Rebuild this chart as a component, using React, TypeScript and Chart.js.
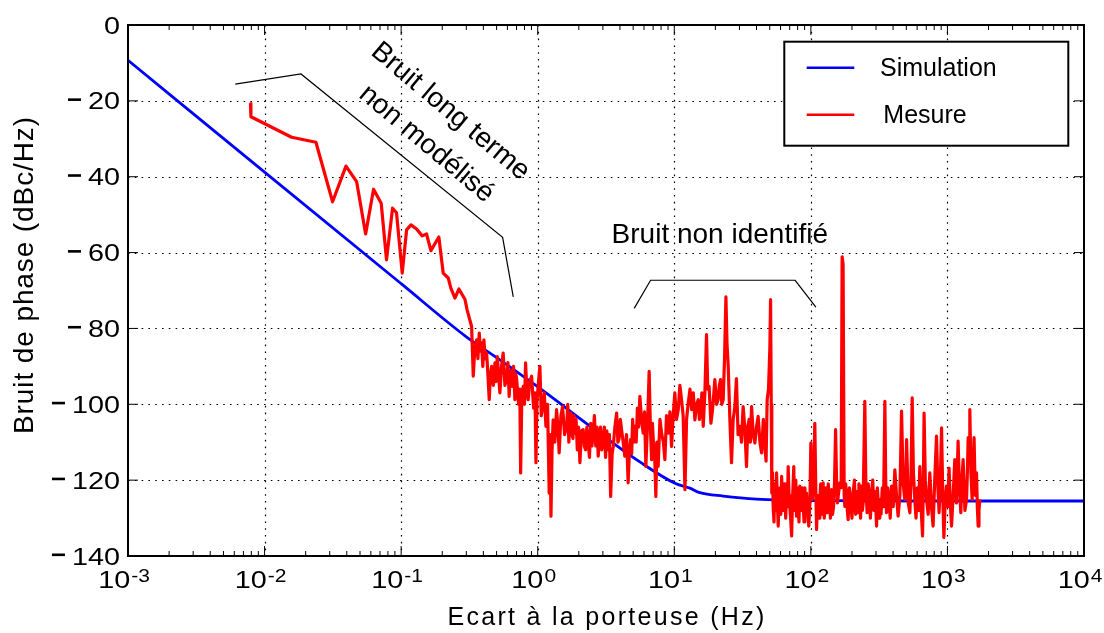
import React, { useEffect, useRef } from "react";
import { Chart, registerables } from "chart.js";

Chart.register(...registerables);

// ---- Data (frequencies stored as log10(Hz)) ----
const SIM_LOG_F = [-3, -2, -1, -0.523, -0.277, 0.004, 0.452, 0.748, 1.004, 1.114, 1.187, 1.358, 1.602, 2.09, 3, 4];
const SIM_DB = [-9.3, -38.8, -68.2, -82.2, -88.3, -95.5, -107.6, -115.2, -120.8, -122.1, -123.3, -124.2, -125.0, -125.4, -125.5, -125.5];

// Measured: low-frequency part
const MES_LOG_F_LOW = [
  -2.103, -2.1, -1.802, -1.624, -1.502, -1.404, -1.326, -1.26, -1.202, -1.146,
  -1.107, -1.063, -1.034, -0.992, -0.96, -0.928, -0.887, -0.846, -0.814, -0.782,
  -0.724, -0.692, -0.655, -0.636, -0.606, -0.577, -0.533, -0.517,
];
const MES_DB_LOW = [
  -20.7, -24.2, -29.6, -30.9, -46.6, -37.2, -41.3, -55.1, -43.3, -47.0,
  -61.9, -48.3, -49.5, -65.4, -54.0, -52.7, -53.8, -55.6, -55.1, -59.5,
  -55.9, -65.4, -66.7, -69.4, -72.0, -69.6, -72.3, -75.1,
];
// Measured: 0.3 Hz – 50 Hz
const MES_LOG_F_MID = [
  -0.484, -0.478, -0.472, -0.46, -0.447, -0.438, -0.428, -0.42, -0.411, -0.402,
  -0.394, -0.384, -0.374, -0.365, -0.355, -0.346, -0.337, -0.325, -0.313, -0.305,
  -0.296, -0.287, -0.277, -0.265, -0.253, -0.24, -0.228, -0.218, -0.209, -0.198,
  -0.187, -0.177, -0.167, -0.16, -0.154, -0.14, -0.131, -0.125, -0.116, -0.106,
  -0.097, -0.089, -0.08, -0.07, -0.058, -0.045, -0.03, -0.02, -0.013, -0.005,
  0.006, 0.016, 0.026, 0.036, 0.048, 0.06, 0.072, 0.084, 0.09, 0.097,
  0.105, 0.113, 0.125, 0.138, 0.148, 0.157, 0.17, 0.182, 0.197, 0.212,
  0.22, 0.228, 0.236, 0.243, 0.25, 0.258, 0.265, 0.272, 0.281, 0.29,
  0.299, 0.309, 0.32, 0.333, 0.341, 0.35, 0.36, 0.37, 0.379, 0.388,
  0.397, 0.406, 0.415, 0.425, 0.434, 0.443, 0.451, 0.46, 0.469, 0.479,
  0.488, 0.497, 0.506, 0.516, 0.525, 0.534, 0.545, 0.553, 0.565, 0.578,
  0.587, 0.596, 0.605, 0.614, 0.626, 0.638, 0.65, 0.662, 0.672, 0.68,
  0.688, 0.695, 0.703, 0.712, 0.721, 0.73, 0.739, 0.748, 0.76, 0.772,
  0.782, 0.792, 0.805, 0.816, 0.825, 0.834, 0.84, 0.846, 0.856, 0.865,
  0.873, 0.882, 0.895, 0.907, 0.92, 0.931, 0.943, 0.955, 0.968, 0.98,
  0.992, 1.004, 1.016, 1.029, 1.041, 1.053, 1.065, 1.078, 1.09, 1.102,
  1.115, 1.127, 1.139, 1.151, 1.163, 1.175, 1.184, 1.193, 1.202, 1.212,
  1.224, 1.236, 1.245, 1.255, 1.268, 1.28, 1.29, 1.297, 1.31, 1.321,
  1.33, 1.339, 1.348, 1.358, 1.368, 1.378, 1.386, 1.395, 1.407, 1.419,
  1.431, 1.444, 1.455, 1.467, 1.48, 1.492, 1.504, 1.516, 1.529, 1.538,
  1.548, 1.557, 1.566, 1.578, 1.59, 1.602, 1.614, 1.627, 1.639, 1.652,
  1.663, 1.672, 1.68, 1.69, 1.7, 1.705,
];
const MES_DB_MID = [
  -79.5, -86, -92.6, -85, -83.0, -88, -81.2, -86, -83.8, -90,
  -83.0, -88, -86.5, -92, -98.8, -92, -90.0, -95, -89.1, -94,
  -87.4, -92, -97.0, -90, -86.5, -95, -93.5, -89, -97.9, -91,
  -95.3, -90, -98.8, -92, -93.5, -100, -96, -118.1, -97, -95.3,
  -100, -89.1, -96, -98.8, -94, -92.6, -101, -97, -115.4, -99,
  -94, -90.0, -103, -100.6, -97, -105.8, -100, -123.4, -108, -129.5,
  -112, -104.1, -110, -101.4, -106, -112.8, -103, -100.6, -108, -105.8,
  -100, -110, -104, -102.3, -108, -109, -103, -107.6, -104, -112,
  -106, -115.4, -107, -106.7, -111, -112, -106, -110.2, -114, -105,
  -111, -107.6, -103, -111, -106, -113.7, -108, -106, -112, -109.3,
  -106, -114, -107, -112.0, -108, -124.3, -113, -111.1, -106, -102.3,
  -110, -109, -104, -106.7, -110, -113.7, -108, -120.7, -112, -109.3,
  -113, -104, -110, -105.8, -110, -101, -106, -97.9, -104, -107.6,
  -102, -116.4, -104, -91.3, -106, -114.6, -105, -109.3, -113, -124.3,
  -110, -116.4, -104, -107.6, -110, -114.6, -103, -107.6, -102, -111.1,
  -103, -97.0, -104, -101.4, -95, -98.8, -103, -122.5, -104, -99.7,
  -96, -101.4, -97, -104.1, -100, -98.8, -104, -102, -97, -105.8,
  -97, -81.6, -96, -95.3, -105, -101.4, -97, -93.5, -100, -98.8,
  -95, -93.5, -100, -98.8, -88, -71.7, -84, -90.0, -104, -115.4,
  -104, -100.6, -93.2, -108, -105.8, -110, -100.6, -106, -116.4, -106,
  -104, -110, -100.6, -108, -110.2, -106, -103.2, -110, -112.8, -104,
  -111.1, -115, -98.8, -96, -85, -72.4,
];
// Measured: 50 Hz – 1.7 kHz
const MES_LOG_F_HIGH = [
  1.71, 1.714, 1.719, 1.724, 1.73, 1.736, 1.742, 1.749, 1.755, 1.761,
  1.767, 1.773, 1.78, 1.786, 1.792, 1.798, 1.804, 1.81, 1.816, 1.822,
  1.828, 1.834, 1.84, 1.846, 1.852, 1.859, 1.867, 1.875, 1.88, 1.885,
  1.89, 1.895, 1.901, 1.907, 1.913, 1.919, 1.926, 1.932, 1.938, 1.944,
  1.95, 1.956, 1.962, 1.968, 1.977, 1.985, 1.993, 2.0, 2.006, 2.012,
  2.02, 2.029, 2.036, 2.042, 2.048, 2.054, 2.06, 2.066, 2.072, 2.078,
  2.084, 2.09, 2.098, 2.105, 2.112, 2.119, 2.127, 2.135, 2.143, 2.152,
  2.159, 2.166, 2.173, 2.181, 2.188, 2.195, 2.204, 2.212, 2.222, 2.229,
  2.236, 2.244, 2.249, 2.255, 2.261, 2.267, 2.273, 2.282, 2.292, 2.301,
  2.31, 2.319, 2.328, 2.337, 2.346, 2.352, 2.358, 2.364, 2.371, 2.377,
  2.383, 2.395, 2.403, 2.412, 2.42, 2.428, 2.436, 2.444, 2.453, 2.462,
  2.471, 2.481, 2.487, 2.493, 2.499, 2.505, 2.514, 2.523, 2.532, 2.542,
  2.548, 2.554, 2.563, 2.572, 2.581, 2.591, 2.603, 2.615, 2.627, 2.639,
  2.652, 2.664, 2.676, 2.688, 2.695, 2.701, 2.713, 2.725, 2.733, 2.742,
  2.751, 2.761, 2.77, 2.78, 2.789, 2.798, 2.808, 2.818, 2.824, 2.829,
  2.838, 2.847, 2.859, 2.871, 2.883, 2.895, 2.907, 2.92, 2.93, 2.939,
  2.948, 2.957, 2.966, 2.974, 2.984, 2.993, 3.003, 3.012, 3.021, 3.03,
  3.042, 3.054, 3.066, 3.078, 3.088, 3.098, 3.106, 3.115, 3.128, 3.14,
  3.146, 3.152, 3.158, 3.164, 3.172, 3.181, 3.188, 3.195, 3.204, 3.213,
  3.219, 3.225, 3.231, 3.237,
];
const MES_DB_HIGH = [
  -100, -123.4, -118, -126.9, -131, -121, -128, -118.1, -126, -132.1,
  -125, -122, -129, -119.0, -127, -128, -121, -125.1, -130, -121,
  -127, -116.4, -124, -126.9, -130, -134.7, -124, -116.4, -128, -124,
  -120, -129.5, -122, -125, -131, -121.6, -126, -128, -122, -126.9,
  -131, -122, -127, -123.4, -128, -132.1, -126, -110.2, -124, -125.1,
  -120, -105.0, -122, -133.0, -124, -126, -130, -125.1, -121, -129,
  -124, -120.7, -130, -126, -122, -128.6, -121, -124, -130, -122.5,
  -129, -127, -121, -106.7, -120, -126.0, -123, -120.7, -122, -61.1,
  -63.0, -124, -126.9, -121, -124, -128, -130.4, -122, -125, -130,
  -123.4, -120, -129, -123, -128.6, -121, -124, -130, -121.6, -128,
  -126, -99.2, -122, -128.6, -121, -125, -130, -123.4, -120, -128,
  -123, -132.1, -122, -126, -130, -125.1, -129, -122, -127, -99.2,
  -120, -128.6, -122, -125, -130, -121.6, -127, -117.3, -124, -129.5,
  -124, -101.8, -121, -125.1, -120, -109.3, -126, -128.6, -120, -98.3,
  -118, -125.1, -130, -122, -128, -116.4, -128, -134.7, -120, -102.3,
  -120, -125.1, -129, -118.1, -127, -132.1, -120, -108.4, -122, -128.6,
  -120, -106.2, -124, -135.1, -125, -121.6, -127, -116.8, -126, -132.1,
  -124, -114.6, -126, -109.7, -122, -128.6, -120, -114.6, -128, -125.1,
  -118, -108.8, -115, -101.4, -118, -125.1, -116, -108.8, -124, -118.1,
  -127, -132.1, -128, -125.1,
];

const X_DECADES = [-3, -2, -1, 0, 1, 2, 3, 4];
const Y_TICKS = [0, -20, -40, -60, -80, -100, -120, -140];
const SERIES_LABELS = ["Simulation", "Mesure"];
const SERIES_COLORS = ["#0000ff", "#ff0000"];
const X_TITLE = "Ecart à la porteuse (Hz)";
const Y_TITLE = "Bruit de phase (dBc/Hz)";

// annotation brackets in (log10 Hz, dB)
const BRACKET_LONG = [[-2.2145, -15.6], [-1.7335, -12.9], [-0.257, -56.0], [-0.179, -71.7]];
const BRACKET_UNID = [[0.7064, -74.7], [0.8265, -67.3], [1.885, -67.3], [2.0366, -74.4]];
const NOTE_LONG = [
  { text: "Bruit long terme", at: [-0.64, -22.8] },
  { text: "non modélisé", at: [-0.815, -31.4] },
];
const NOTE_UNID = { text: "Bruit non identifié", at: [0.541, -57.4] };

const FONT = '"Liberation Sans", Arial, Helvetica, sans-serif';

function stretchText(ctx, text, x, y, align, sx) {
  ctx.save();
  ctx.translate(x, y);
  ctx.scale(sx, 1);
  ctx.textAlign = align;
  ctx.fillText(text, 0, 0);
  ctx.restore();
}

const decorPlugin = {
  id: "decor",
  beforeDatasetsDraw(chart) {
    const { ctx, chartArea: a, scales } = chart;
    const xs = scales.x, ys = scales.y;
    ctx.save();
    ctx.strokeStyle = "#000";
    ctx.lineWidth = 1.2;
    ctx.setLineDash([1.6, 5.2]);
    X_DECADES.slice(1, -1).forEach((d) => {
      const px = Math.round(xs.getPixelForValue(Math.pow(10, d))) + 0.5;
      ctx.beginPath();
      ctx.moveTo(px, a.top);
      ctx.lineTo(px, a.bottom);
      ctx.stroke();
    });
    Y_TICKS.slice(1, -1).forEach((v) => {
      const py = Math.round(ys.getPixelForValue(v)) + 0.5;
      ctx.beginPath();
      ctx.moveTo(a.left, py);
      ctx.lineTo(a.right, py);
      ctx.stroke();
    });
    ctx.restore();
  },
  afterDatasetsDraw(chart) {
    const { ctx, chartArea: a, scales } = chart;
    const xs = scales.x, ys = scales.y;
    const P = (e, v) => [xs.getPixelForValue(Math.pow(10, e)), ys.getPixelForValue(v)];
    ctx.save();
    ctx.fillStyle = "#000";
    ctx.strokeStyle = "#000";

    // ticks
    ctx.lineWidth = 1;
    X_DECADES.forEach((d, i) => {
      const px = xs.getPixelForValue(Math.pow(10, d));
      ctx.beginPath();
      ctx.moveTo(px, a.bottom); ctx.lineTo(px, a.bottom - 10);
      ctx.moveTo(px, a.top); ctx.lineTo(px, a.top + 10);
      ctx.stroke();
      if (i < X_DECADES.length - 1) {
        for (let m = 2; m <= 9; m++) {
          const mx = xs.getPixelForValue(m * Math.pow(10, d));
          ctx.beginPath();
          ctx.moveTo(mx, a.bottom); ctx.lineTo(mx, a.bottom - 5);
          ctx.moveTo(mx, a.top); ctx.lineTo(mx, a.top + 5);
          ctx.stroke();
        }
      }
    });
    Y_TICKS.forEach((v) => {
      const py = ys.getPixelForValue(v);
      ctx.beginPath();
      ctx.moveTo(a.left, py); ctx.lineTo(a.left + 10, py);
      ctx.moveTo(a.right, py); ctx.lineTo(a.right - 10, py);
      ctx.stroke();
    });

    // frame
    ctx.lineWidth = 2;
    ctx.strokeRect(a.left, a.top, a.right - a.left, a.bottom - a.top);

    // y tick labels
    ctx.font = `24px ${FONT}`;
    ctx.textBaseline = "alphabetic";
    Y_TICKS.forEach((v) => {
      const py = ys.getPixelForValue(v);
      const s = String(Math.abs(v));
      const right = 120;
      stretchText(ctx, s, right, py + 8.6, "right", 1.2);
      if (v < 0) {
        const w = ctx.measureText(s).width * 1.2;
        ctx.fillRect(right - w - 8 - 12, py - 2.5, 13, 2.6);
      }
    });

    // x tick labels 10^n
    X_DECADES.forEach((d) => {
      const px = xs.getPixelForValue(Math.pow(10, d));
      ctx.font = `24px ${FONT}`;
      const wb = ctx.measureText("10").width * 1.2;
      const sup = d < 0 ? "-" + Math.abs(d) : String(d);
      ctx.font = `17.5px ${FONT}`;
      const ws = ctx.measureText(sup).width * 1.2;
      const start = px - 4 - (wb + 1 + ws) / 2;
      ctx.font = `24px ${FONT}`;
      stretchText(ctx, "10", start, 588.3, "left", 1.2);
      ctx.font = `17.5px ${FONT}`;
      stretchText(ctx, sup, start + wb + 1, 581.5, "left", 1.2);
    });

    // axis titles
    ctx.font = `25px ${FONT}`;
    ctx.letterSpacing = "2.3px";
    ctx.textAlign = "center";
    ctx.fillText(X_TITLE, (a.left + a.right) / 2 + 1, 625);
    ctx.save();
    ctx.font = `28px ${FONT}`;
    ctx.letterSpacing = "0.9px";
    ctx.translate(33.3, 275);
    ctx.rotate(-Math.PI / 2);
    ctx.textAlign = "center";
    ctx.fillText(Y_TITLE, 0, 0);
    ctx.restore();
    ctx.letterSpacing = "0px";

    // annotation brackets
    ctx.lineWidth = 1.2;
    [BRACKET_LONG, BRACKET_UNID].forEach((br) => {
      ctx.beginPath();
      br.forEach(([e, v], i) => {
        const [x, y] = P(e, v);
        if (i === 0) ctx.moveTo(x, y); else ctx.lineTo(x, y);
      });
      ctx.stroke();
    });

    // annotation texts
    ctx.font = `28px ${FONT}`;
    ctx.textAlign = "center";
    ctx.textBaseline = "middle";
    NOTE_LONG.forEach((n) => {
      const [x, y] = P(n.at[0], n.at[1]);
      ctx.save();
      ctx.translate(x, y);
      ctx.rotate((40 * Math.PI) / 180);
      ctx.fillText(n.text, 0, 0);
      ctx.restore();
    });
    ctx.font = `28px ${FONT}`;
    ctx.textAlign = "left";
    ctx.textBaseline = "alphabetic";
    {
      const [x, y] = P(NOTE_UNID.at[0], NOTE_UNID.at[1]);
      ctx.fillText(NOTE_UNID.text, x, y);
    }

    // legend
    const lx = 784.3, ly = 41.7, lw = 284, lh = 104;
    ctx.fillStyle = "#fff";
    ctx.fillRect(lx, ly, lw, lh);
    ctx.lineWidth = 2;
    ctx.strokeStyle = "#000";
    ctx.strokeRect(lx, ly, lw, lh);
    const rowsY = [67.7, 114.7];
    const textX = [880, 883.3];
    ctx.font = `25px ${FONT}`;
    ctx.fillStyle = "#000";
    SERIES_LABELS.forEach((lab, i) => {
      ctx.strokeStyle = SERIES_COLORS[i];
      ctx.lineWidth = 2.5;
      ctx.beginPath();
      ctx.moveTo(806.7, rowsY[i]);
      ctx.lineTo(854.3, rowsY[i]);
      ctx.stroke();
      ctx.fillText(lab, textX[i], rowsY[i] + 8.6);
    });
    ctx.restore();
  },
};

export default function App() {
  const ref = useRef(null);
  useEffect(() => {
    const simData = SIM_LOG_F.map((e, i) => ({ x: Math.pow(10, e), y: SIM_DB[i] }));
    const mesLog = [...MES_LOG_F_LOW, ...MES_LOG_F_MID, ...MES_LOG_F_HIGH];
    const mesDb = [...MES_DB_LOW, ...MES_DB_MID, ...MES_DB_HIGH];
    const mesData = mesLog.map((e, i) => ({ x: Math.pow(10, e), y: mesDb[i] }));
    const chart = new Chart(ref.current, {
      type: "line",
      data: {
        datasets: [
          {
            label: SERIES_LABELS[0],
            data: simData,
            borderColor: SERIES_COLORS[0],
            borderWidth: 2.8,
            pointRadius: 0,
            fill: false,
            cubicInterpolationMode: "monotone",
            order: 2,
          },
          {
            label: SERIES_LABELS[1],
            data: mesData,
            borderColor: SERIES_COLORS[1],
            borderWidth: 3.2,
            pointRadius: 0,
            fill: false,
            tension: 0,
            borderJoinStyle: "round",
            order: 1,
          },
        ],
      },
      options: {
        animation: false,
        responsive: false,
        devicePixelRatio: 1,
        layout: { padding: { left: 128, right: 20, top: 25, bottom: 77 } },
        scales: {
          x: { type: "logarithmic", min: 1e-3, max: 1e4, display: false },
          y: { type: "linear", min: -140, max: 0, display: false },
        },
        plugins: { legend: { display: false }, tooltip: { enabled: false } },
        events: [],
      },
      plugins: [decorPlugin],
    });
    return () => chart.destroy();
  }, []);
  return (
    <div style={{ position: "fixed", left: 0, top: 0, width: 1104, height: 633, background: "#fff" }}>
      <canvas ref={ref} width={1104} height={633} />
    </div>
  );
}
